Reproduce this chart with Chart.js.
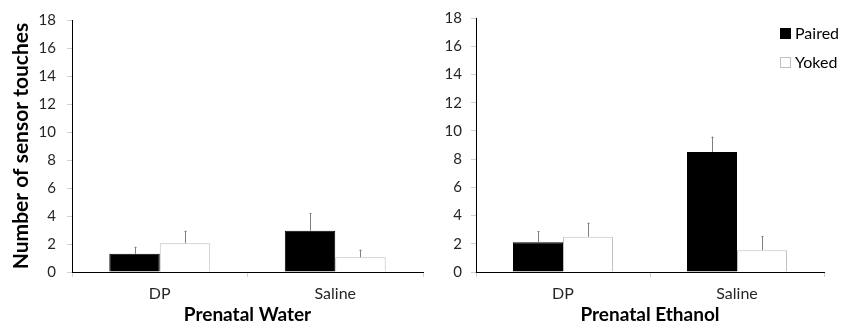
<!DOCTYPE html>
<html>
<head>
<meta charset="utf-8">
<script src="https://cdn.jsdelivr.net/npm/chart.js@4/dist/chart.umd.min.js"></script>
<style>
  html, body { margin: 0; padding: 0; background: #fff; }
  #wrap { position: relative; width: 843px; height: 327px; overflow: hidden; }
  .box { position: absolute; top: 0; height: 327px; }
  #left { left: 0; width: 424px; }
  #right { left: 424px; width: 419px; }
</style>
</head>
<body>
<div id="wrap">
  <div class="box" id="left"><canvas id="c1"></canvas></div>
  <div class="box" id="right"><canvas id="c2"></canvas></div>
</div>
<script>
// ---- data ----
const categories = ['DP', 'Saline'];
const seriesNames = ['Paired', 'Yoked'];
const yTicks = [0, 2, 4, 6, 8, 10, 12, 14, 16, 18];

const waterPaired = [1.3, 2.95];
const waterPairedErr = [0.5, 1.25];
const waterYoked = [2.05, 1.05];
const waterYokedErr = [0.9, 0.55];

const ethanolPaired = [2.1, 8.5];
const ethanolPairedErr = [0.8, 1.1];
const ethanolYoked = [2.5, 1.55];
const ethanolYokedErr = [1.0, 1.0];

const panelTitles = ['Prenatal Water', 'Prenatal Ethanol'];
const yTitle = 'Number of sensor touches';

const FONT = 'Lato, "Open Sans", sans-serif';

// error bar plugin: draws upper whiskers from data arrays via scales
const errorBars = {
  id: 'errorBars',
  afterDatasetsDraw(chart, args, opts) {
    const ctx = chart.ctx;
    const y = chart.scales.y;
    ctx.save();
    ctx.strokeStyle = '#7f7f7f';
    ctx.lineWidth = 1;
    chart.data.datasets.forEach((ds, di) => {
      const meta = chart.getDatasetMeta(di);
      meta.data.forEach((bar, i) => {
        const v = ds.data[i];
        const e = ds.errors[i];
        const x = Math.round(bar.x) + 0.5;
        const yTop = y.getPixelForValue(v + e);
        const yBase = y.getPixelForValue(v);
        ctx.beginPath();
        ctx.moveTo(x, yBase);
        ctx.lineTo(x, yTop);
        ctx.moveTo(x - 1, Math.round(yTop) + 0.5);
        ctx.lineTo(x + 1, Math.round(yTop) + 0.5);
        ctx.stroke();
      });
    });
    ctx.restore();
  }
};

// legend plugin for the right panel
const boxLegend = {
  id: 'boxLegend',
  afterDraw(chart, args, opts) {
    if (!opts.show) return;
    const ctx = chart.ctx;
    ctx.save();
    ctx.font = '16px ' + FONT;
    ctx.textBaseline = 'middle';
    ctx.textAlign = 'left';
    chart.data.datasets.forEach((ds, i) => {
      const yc = opts.y + i * opts.gap;
      ctx.fillStyle = ds.backgroundColor;
      ctx.fillRect(opts.x, yc - 5, 11, 11);
      ctx.strokeStyle = ds.borderColor;
      ctx.lineWidth = 1;
      ctx.strokeRect(opts.x + 0.5, yc - 4.5, 10, 10);
      ctx.fillStyle = '#000';
      ctx.fillText(ds.label, opts.x + 15, yc + 1);
    });
    ctx.restore();
  }
};

function makeChart(id, paired, pairedErr, yoked, yokedErr, title, opts) {
  return new Chart(document.getElementById(id), {
    type: 'bar',
    data: {
      labels: categories,
      datasets: [
        { label: seriesNames[0], data: paired, errors: pairedErr,
          backgroundColor: '#000000', borderColor: '#000000', borderWidth: 1,
          categoryPercentage: 0.575, barPercentage: 1 },
        { label: seriesNames[1], data: yoked, errors: yokedErr,
          backgroundColor: '#ffffff', borderColor: '#bfbfbf', borderWidth: 1,
          borderSkipped: 'bottom',
          categoryPercentage: 0.575, barPercentage: 1 }
      ]
    },
    options: {
      responsive: true,
      maintainAspectRatio: false,
      animation: false,
      layout: { padding: { top: 16, right: opts.padRight, bottom: 0, left: 0 } },
      plugins: {
        legend: { display: false },
        tooltip: { enabled: false },
        boxLegend: opts.legend
      },
      scales: {
        x: {
          offset: true,
          grid: { display: true, offset: true, drawOnChartArea: false, drawTicks: true,
                  tickLength: 5, color: '#d0d0d0' },
          border: { display: true, color: '#000000', width: 1 },
          ticks: { font: { family: FONT, size: 16 }, color: '#262626', padding: 7 },
          title: { display: true, text: title, color: '#000',
                   font: { family: FONT, size: 19, weight: 'bold' },
                   padding: { top: 0, bottom: 1 } },
          afterFit(s) { s.height = 55; }
        },
        y: {
          min: 0, max: 18,
          afterBuildTicks(s) { s.ticks = yTicks.map(v => ({ value: v })); },
          grid: { display: true, drawOnChartArea: false, drawTicks: true, tickLength: 5, color: '#d0d0d0' },
          border: { display: true, color: '#000000', width: 1 },
          ticks: { font: { family: FONT, size: 15 }, color: '#262626', padding: opts.tickPad },
          title: { display: opts.showYTitle, text: yTitle, color: '#000',
                   font: { family: FONT, size: 21, weight: 'bold' },
                   padding: { top: 9, bottom: 0 } },
          afterFit(s) { s.width = opts.yWidth; }
        }
      }
    },
    plugins: [errorBars, boxLegend]
  });
}

makeChart('c1', waterPaired, waterPairedErr, waterYoked, waterYokedErr, panelTitles[0],
  { padRight: 1, yWidth: 72, tickPad: 11, showYTitle: true, legend: { show: false } });
makeChart('c2', ethanolPaired, ethanolPairedErr, ethanolYoked, ethanolYokedErr, panelTitles[1],
  { padRight: 19, yWidth: 52, tickPad: 9, showYTitle: false,
    legend: { show: true, x: 356, y: 33, gap: 29 } });
</script>
</body>
</html>
